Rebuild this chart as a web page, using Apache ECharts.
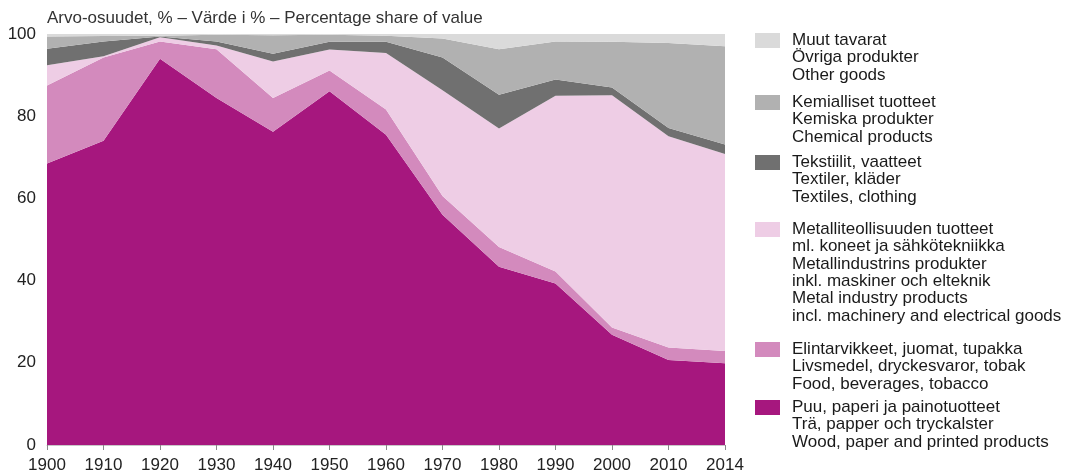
<!DOCTYPE html>
<html>
<head>
<meta charset="utf-8">
<script src="https://cdn.jsdelivr.net/npm/echarts@6/dist/echarts.min.js"></script>
<style>
  html, body { margin: 0; padding: 0; background: #fff; }
</style>
</head>
<body>
<div id="chart" style="width: 1085px; height: 475px;"></div>
<script>
// vuodet / x-akseli
const years = ['1900', '1910', '1920', '1930', '1940', '1950', '1960', '1970', '1980', '1990', '2000', '2010', '2014'];

// osuudet % (pinotaan alhaalta ylös)
const wood    = [68.5, 74.0, 94.0, 84.4, 76.2, 86.1, 75.5, 56.0, 43.4, 39.3, 26.8, 20.7, 19.9];
const food    = [19.0, 20.3, 4.2, 11.9, 8.2, 5.0, 6.1, 4.6, 4.8, 2.9, 1.8, 3.0, 3.0];
const metal   = [4.9, 0.3, 1.0, 0.9, 8.9, 5.1, 13.8, 25.7, 28.8, 42.8, 56.5, 51.4, 47.9];
const textile = [4.0, 3.6, 0.2, 1.0, 1.9, 1.9, 2.7, 8.0, 8.2, 3.9, 1.9, 2.0, 2.3];
const chem    = [3.0, 1.3, 0.2, 1.6, 4.5, 1.7, 1.5, 4.6, 11.1, 9.3, 11.1, 20.7, 23.9];
const other   = [0.6, 0.5, 0.4, 0.2, 0.3, 0.2, 0.4, 1.1, 3.7, 1.8, 1.9, 2.2, 3.0];

const yTicks = [0, 20, 40, 60, 80, 100];

// sarjat alhaalta ylös
const seriesDefs = [
  { data: wood, color: '#a6177e', lines: ['Puu, paperi ja painotuotteet', 'Trä, papper och tryckalster', 'Wood, paper and printed products'] },
  { data: food, color: '#d38abd', lines: ['Elintarvikkeet, juomat, tupakka', 'Livsmedel, dryckesvaror, tobak', 'Food, beverages, tobacco'] },
  { data: metal, color: '#eecde5', lines: ['Metalliteollisuuden tuotteet', 'ml. koneet ja sähkötekniikka', 'Metallindustrins produkter', 'inkl. maskiner och elteknik', 'Metal industry products', 'incl. machinery and electrical goods'] },
  { data: textile, color: '#707070', lines: ['Tekstiilit, vaatteet', 'Textiler, kläder', 'Textiles, clothing'] },
  { data: chem, color: '#b1b1b1', lines: ['Kemialliset tuotteet', 'Kemiska produkter', 'Chemical products'] },
  { data: other, color: '#dadada', lines: ['Muut tavarat', 'Övriga produkter', 'Other goods'] }
];

const FONT = '"Liberation Sans", Arial, Helvetica, sans-serif';

// selite oikealle (ylhäältä alas), neliön yläreuna
const legendTops = [33, 95, 155, 222, 342, 400];
const legendGraphics = [];
seriesDefs.slice().reverse().forEach((s, i) => {
  const top = legendTops[i];
  legendGraphics.push({
    type: 'rect',
    left: 755, top: top,
    shape: { width: 25, height: 15 },
    style: { fill: s.color }
  });
  legendGraphics.push({
    type: 'text',
    left: 792, top: top - 1.5,
    style: {
      text: s.lines.join('\n'),
      font: '17px ' + FONT,
      lineHeight: 17.4,
      fill: '#1a1a1a'
    }
  });
});

const chart = echarts.init(document.getElementById('chart'));

const option = {
  animation: false,
  title: {
    text: 'Arvo-osuudet, % – Värde i % – Percentage share of value',
    left: 42, top: 5,
    textStyle: { fontFamily: FONT, fontSize: 17, fontWeight: 'normal', color: '#333' }
  },
  grid: { left: 47, right: 360, top: 34, bottom: 30 },
  xAxis: {
    type: 'category',
    data: years,
    boundaryGap: false,
    axisLine: { show: true, lineStyle: { color: '#c8c8c8', width: 1 } },
    axisTick: { show: true, length: 5, lineStyle: { color: '#888' } },
    axisLabel: { fontFamily: FONT, fontSize: 17, color: '#222', margin: 12, interval: 0 }
  },
  yAxis: {
    type: 'value',
    min: yTicks[0],
    max: yTicks[yTicks.length - 1],
    interval: 20,
    axisLine: { show: false },
    axisTick: { show: false },
    splitLine: { show: false },
    axisLabel: { fontFamily: FONT, fontSize: 17, color: '#222', margin: 11 }
  },
  series: seriesDefs.map((s) => ({
    type: 'line',
    name: s.lines[2] || s.lines[0],
    stack: 'total',
    data: s.data,
    showSymbol: false,
    symbol: 'none',
    lineStyle: { width: 0 },
    areaStyle: { color: s.color, opacity: 1 },
    itemStyle: { color: s.color }
  })),
  graphic: legendGraphics
};

chart.setOption(option);
</script>
</body>
</html>
